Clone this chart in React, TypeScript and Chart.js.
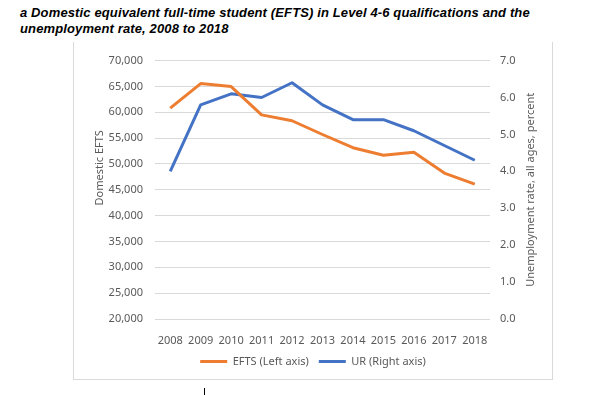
import React, { useEffect, useRef } from "react";
import { Chart, registerables } from "chart.js";

Chart.register(...registerables);

const titleLine1 = "a Domestic equivalent full-time student (EFTS) in Level 4-6 qualifications and the";
const titleLine2 = "unemployment rate, 2008 to 2018";

const years = ["2008", "2009", "2010", "2011", "2012", "2013", "2014", "2015", "2016", "2017", "2018"];
const eftsValues = [60800, 65550, 64980, 59500, 58360, 55700, 53150, 51680, 52250, 48240, 46090];
const urValues = [4.0, 5.8, 6.1, 6.0, 6.4, 5.8, 5.4, 5.4, 5.1, 4.7, 4.3];

const eftsLabel = "EFTS (Left axis)";
const urLabel = "UR (Right axis)";
const leftAxisTitle = "Domestic EFTS";
const rightAxisTitle = "Unemployment rate, all ages, percent";

const leftMin = 20000;
const leftMax = 70000;
const leftStep = 5000;
const rightMin = 0;
const rightMax = 7;
const rightStep = 1;

const FONT = "'Noto Sans', sans-serif";
const TEXT = "#595959";

export default function App() {
  const ref = useRef<HTMLCanvasElement>(null);

  useEffect(() => {
    if (!ref.current) return;
    const axisTitlesPlugin = {
      id: "axisTitles",
      afterDraw(chart: any) {
        const ctx = chart.ctx;
        const area = chart.chartArea;
        const mid = (area.top + area.bottom) / 2;
        const draw = (text: string, x: number, y: number) => {
          ctx.save();
          ctx.translate(x, y);
          ctx.rotate(-Math.PI / 2);
          ctx.font = `11px ${FONT}`;
          ctx.fillStyle = TEXT;
          ctx.textAlign = "center";
          ctx.textBaseline = "middle";
          ctx.fillText(text, 0, 0);
          ctx.restore();
        };
        draw(leftAxisTitle, 26, mid - 22);
        draw(rightAxisTitle, 457, mid);
      },
    };
    const chart = new Chart(ref.current, {
      type: "line",
      data: {
        labels: years,
        datasets: [
          {
            label: eftsLabel,
            data: eftsValues,
            borderColor: "#ED7D31",
            backgroundColor: "#ED7D31",
            borderWidth: 3,
            pointRadius: 0,
            tension: 0,
            yAxisID: "yLeft",
            borderJoinStyle: "round",
          },
          {
            label: urLabel,
            data: urValues,
            borderColor: "#4472C4",
            backgroundColor: "#4472C4",
            borderWidth: 3,
            pointRadius: 0,
            tension: 0,
            yAxisID: "yRight",
            borderJoinStyle: "round",
          },
        ],
      },
      options: {
        animation: false,
        responsive: false,
        maintainAspectRatio: false,
        layout: { padding: { top: 14, bottom: 2, left: 0, right: 0 } },
        plugins: {
          legend: {
            position: "bottom",
            labels: {
              usePointStyle: true,
              pointStyle: "line",
              pointStyleWidth: 27,
              font: { family: FONT, size: 11 },
              color: TEXT,
              padding: 10,
            },
          },
          tooltip: { enabled: false },
        },
        scales: {
          x: {
            offset: true,
            grid: { display: false },
            border: { display: false },
            ticks: {
              font: { family: FONT, size: 11 },
              color: TEXT,
              padding: 7,
              maxRotation: 0,
              autoSkip: false,
            },
            afterFit(s: any) {
              s.height = 27;
            },
          },
          yLeft: {
            position: "left",
            min: leftMin,
            max: leftMax,
            ticks: {
              stepSize: leftStep,
              callback: (v: any) => Number(v).toLocaleString("en-US"),
              padding: 12,
              font: { family: FONT, size: 11 },
              color: TEXT,
            },
            grid: { color: "#d9d9d9", drawTicks: false },
            border: { display: false },
            afterFit(s: any) {
              s.width = 81;
            },
          },
          yRight: {
            position: "right",
            min: rightMin,
            max: rightMax,
            ticks: {
              stepSize: rightStep,
              callback: (v: any) => Number(v).toFixed(1),
              padding: 10,
              font: { family: FONT, size: 11 },
              color: TEXT,
            },
            grid: { display: false, drawTicks: false },
            border: { display: false },
            afterFit(s: any) {
              s.width = 62;
            },
          },
        },
      },
      plugins: [axisTitlesPlugin],
    } as any);
    return () => chart.destroy();
  }, []);

  return (
    <div style={{ position: "absolute", left: 0, top: 0, width: 600, height: 395, background: "#fff" }}>
      <div
        style={{
          position: "absolute",
          left: 20,
          top: 5,
          font: "italic bold 13px 'Liberation Sans', Arial, sans-serif",
          letterSpacing: "0.13px",
          lineHeight: "16px",
          color: "#000",
          whiteSpace: "nowrap",
        }}
      >
        {titleLine1}
        <br />
        {titleLine2}
      </div>
      <div
        style={{
          position: "absolute",
          left: 73,
          top: 42,
          width: 480,
          height: 338,
          boxSizing: "border-box",
          borderLeft: "1px solid #d9d9d9",
          borderRight: "1px solid #d9d9d9",
          borderBottom: "1px solid #d9d9d9",
        }}
      >
        <canvas ref={ref} width={478} height={337} style={{ display: "block" }} />
      </div>
      <div style={{ position: "absolute", left: 204, top: 388, width: 1, height: 7, background: "#000" }} />
    </div>
  );
}
